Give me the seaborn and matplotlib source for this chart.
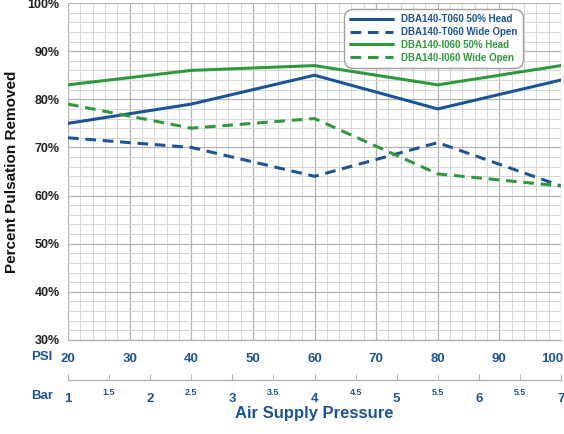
import numpy as np
import pandas as pd
import seaborn as sns
from matplotlib import pyplot as plt
from matplotlib.ticker import MultipleLocator, FixedLocator, FixedFormatter
from matplotlib.transforms import ScaledTranslation

psi = [20, 40, 60, 80, 100]
t060_head = [75, 79, 85, 78, 84]
t060_open = [72, 70, 64, 71, 62]
i060_head = [83, 86, 87, 83, 87]
i060_open = [79, 74, 76, 64.5, 62]

series_names = [
    "DBA140-T060 50% Head",
    "DBA140-T060 Wide Open",
    "DBA140-I060 50% Head",
    "DBA140-I060 Wide Open",
]

psi_ticks = [20, 30, 40, 50, 60, 70, 80, 90, 100]
bar_major = [1, 2, 3, 4, 5, 6, 7]
bar_minor = [1.5, 2.5, 3.5, 4.5, 5.5, 6.5]
bar_minor_labels = ["1.5", "2.5", "3.5", "4.5", "5.5", "5.5"]

blue = "#1c5597"
green = "#2f9a3c"
gray_major = "#b4b4b4"
gray_minor = "#d6d6d6"

df = pd.DataFrame(
    {
        "psi": psi * 4,
        "value": t060_head + t060_open + i060_head + i060_open,
        "series": np.repeat(series_names, len(psi)),
    }
)

sns.set_style("white")
plt.rcParams["font.family"] = ["Liberation Sans", "DejaVu Sans"]

fig = plt.figure(figsize=(5.64, 4.34), dpi=100)
ax = fig.add_axes([68 / 564, 1 - 340 / 434, 493 / 564, 337 / 434])

palette = {
    series_names[0]: blue,
    series_names[1]: blue,
    series_names[2]: green,
    series_names[3]: green,
}
dashes = {
    series_names[0]: "",
    series_names[1]: (3.5, 2.2),
    series_names[2]: "",
    series_names[3]: (3.5, 2.2),
}

sns.lineplot(
    data=df,
    x="psi",
    y="value",
    hue="series",
    style="series",
    palette=palette,
    dashes=dashes,
    linewidth=2.2,
    ax=ax,
    zorder=3,
)

ax.set_xlim(20, 100)
ax.set_ylim(30, 100)
ax.set_xticks(psi_ticks)
ax.xaxis.set_minor_locator(MultipleLocator(2))
ax.yaxis.set_minor_locator(MultipleLocator(2))
ax.grid(which="major", color=gray_major, linewidth=0.9)
ax.grid(which="minor", color=gray_minor, linewidth=0.7)
ax.set_axisbelow(True)

for side in ["top", "right", "left"]:
    ax.spines[side].set_visible(False)
ax.spines["bottom"].set_color(gray_major)
ax.spines["bottom"].set_linewidth(1.0)

ax.set_yticks(np.arange(30, 101, 10))
ax.set_yticklabels([f"{v}%" for v in range(30, 101, 10)])
ax.tick_params(axis="y", which="major", labelsize=9, length=4, color=gray_major, pad=2)
ax.tick_params(axis="y", which="minor", length=0)
for lbl in ax.get_yticklabels():
    lbl.set_fontweight("bold")
    lbl.set_color("#222222")

ax.tick_params(axis="x", which="major", labelsize=9.5, length=4, color=gray_major,
               labelcolor=blue, pad=5, direction="out")
ax.tick_params(axis="x", which="minor", length=0)
for lbl in ax.get_xticklabels():
    lbl.set_fontweight("bold")
last = ax.get_xticklabels()[-1]
last.set_transform(last.get_transform() + ScaledTranslation(-6 / 72, 0, fig.dpi_scale_trans))

ax.set_xlabel("")
ax.set_ylabel("Percent Pulsation Removed", fontsize=11, fontweight="bold", color="#111111", labelpad=6)

# secondary Bar axis
sec = ax.secondary_xaxis(-0.119, functions=(lambda p: 1 + (p - 20) * 6 / 80,
                                             lambda b: 20 + (b - 1) * 80 / 6))
sec.xaxis.set_major_locator(FixedLocator(bar_major))
sec.xaxis.set_minor_locator(FixedLocator(bar_minor))
sec.xaxis.set_minor_formatter(FixedFormatter(bar_minor_labels))
sec.spines["bottom"].set_color(gray_major)
sec.spines["bottom"].set_linewidth(1.0)
sec.tick_params(axis="x", which="major", direction="in", length=4, color=gray_major,
                labelsize=9.5, labelcolor=blue, pad=9)
sec.tick_params(axis="x", which="minor", direction="in", length=4, color=gray_major,
                labelsize=6.5, labelcolor=blue, pad=6)
for lbl in sec.get_xticklabels():
    lbl.set_fontweight("bold")
for lbl in sec.xaxis.get_minorticklabels():
    lbl.set_fontweight("bold")
sec.set_xlabel("Air Supply Pressure", fontsize=12, fontweight="bold", color=blue, labelpad=1)

fig.text(42 / 564, 1 - 357 / 434, "PSI", fontsize=9.5, fontweight="bold", color=blue,
         ha="center", va="center")
fig.text(42 / 564, 1 - 396 / 434, "Bar", fontsize=9.5, fontweight="bold", color=blue,
         ha="center", va="center")

leg = ax.legend(
    loc="upper right",
    bbox_to_anchor=(0.923, 0.982),
    borderaxespad=0,
    fontsize=7,
    labelcolor="linecolor",
    frameon=True,
    fancybox=True,
    edgecolor="#a0a0a0",
    handlelength=4.4,
    handletextpad=0.9,
    borderpad=0.55,
    labelspacing=0.28,
    framealpha=1,
)
leg.get_frame().set_linewidth(1.0)
leg.get_frame().set_boxstyle("round", pad=0, rounding_size=0.9)
for txt in leg.get_texts():
    txt.set_fontweight("bold")

fig.savefig("out.png", dpi=100)
